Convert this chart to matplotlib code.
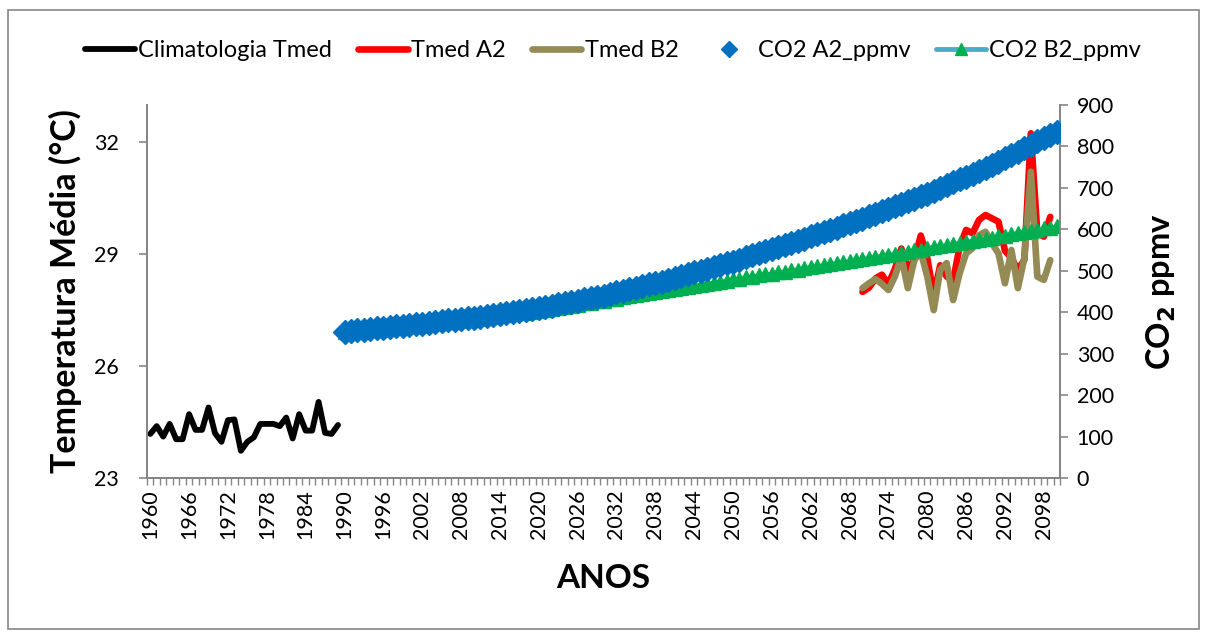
import matplotlib
matplotlib.use("Agg")
import matplotlib.pyplot as plt
from matplotlib.lines import Line2D
from matplotlib.patches import Rectangle

plt.rcParams['font.family'] = ['Lato', 'DejaVu Sans']

# Category axis: one slot per year
years = list(range(1960, 2101))

clim_years = list(range(1960, 1990))
clim_tmed = [24.18, 24.39, 24.11, 24.45, 24.04, 24.04, 24.71, 24.29, 24.29, 24.89,
             24.20, 23.97, 24.55, 24.57, 23.73, 23.97, 24.09, 24.45, 24.45, 24.45,
             24.39, 24.62, 24.06, 24.71, 24.27, 24.27, 25.04, 24.21, 24.18, 24.42]

scen_years = list(range(2070, 2100))
tmed_a2 = [27.99, 28.10, 28.35, 28.45, 28.20, 28.60, 29.15, 28.60, 28.85, 29.50,
           28.90, 27.90, 28.70, 28.40, 28.30, 29.20, 29.65, 29.56, 29.92, 30.05,
           29.96, 29.87, 29.09, 28.90, 28.58, 28.85, 32.24, 29.56, 29.47, 30.00]
tmed_b2 = [28.09, 28.22, 28.33, 28.20, 28.04, 28.40, 28.93, 28.09, 28.84, 29.07,
           28.40, 27.50, 28.58, 28.76, 27.77, 28.49, 29.02, 29.16, 29.51, 29.60,
           29.29, 29.02, 28.22, 29.11, 28.09, 28.90, 31.21, 28.40, 28.31, 28.84]

co2_years = list(range(1990, 2101))
co2_a2 = [353,
          355, 356, 358, 359, 361, 363, 364, 366, 367, 369,
          371, 372, 374, 376, 378, 380, 381, 383, 385, 387,
          389, 392, 394, 396, 399, 401, 403, 406, 408, 410,
          413, 416, 419, 422, 425, 428, 431, 434, 437, 440,
          444, 448, 451, 455, 459, 463, 467, 470, 474, 478,
          482, 487, 491, 496, 500, 504, 509, 513, 518, 522,
          527, 532, 537, 542, 547, 552, 557, 562, 567, 572,
          577, 583, 588, 594, 599, 604, 610, 615, 621, 626,
          632, 638, 644, 650, 656, 662, 668, 674, 680, 686,
          693, 700, 707, 714, 721, 727, 734, 741, 748, 755,
          763, 771, 779, 787, 796, 804, 812, 820, 828, 836]
co2_b2 = [353,
          354, 356, 357, 359, 360, 361, 363, 364, 366, 367,
          369, 370, 372, 373, 375, 377, 378, 380, 381, 383,
          385, 387, 389, 391, 393, 395, 397, 399, 401, 403,
          406, 408, 411, 413, 416, 418, 421, 423, 426, 428,
          431, 433, 436, 438, 441, 444, 446, 449, 451, 454,
          456, 459, 461, 464, 466, 469, 471, 474, 476, 479,
          481, 484, 486, 489, 491, 493, 496, 498, 501, 503,
          506, 508, 511, 513, 516, 518, 521, 523, 526, 528,
          531, 533, 536, 538, 541, 544, 546, 549, 551, 554,
          557, 559, 562, 564, 567, 570, 572, 575, 577, 580,
          583, 585, 588, 591, 593, 596, 599, 602, 604, 607]

temp_ticks = [23, 26, 29, 32]
co2_ticks = [0, 100, 200, 300, 400, 500, 600, 700, 800, 900]
label_step = 6

BLACK = '#000000'
RED = '#FF0000'
OLIVE = '#948A54'
BLUE = '#0070C0'
GREEN = '#00B050'
TEAL = '#4BACC6'
AXIS_GREY = '#868686'


def pos(yr_list):
    return [years.index(y) for y in yr_list]


fig = plt.figure(figsize=(12.07, 6.32), dpi=100)
ax = fig.add_axes([0.1218, 0.2437, 0.7564, 0.5902])
ax2 = ax.twinx()

lw = 4.2
ax.plot(pos(clim_years), clim_tmed, color=BLACK, lw=lw, solid_joinstyle='round',
        solid_capstyle='round', zorder=3)
ax.plot(pos(scen_years), tmed_a2, color=RED, lw=lw + 0.6, solid_joinstyle='round',
        solid_capstyle='round', zorder=3)
ax.plot(pos(scen_years), tmed_b2, color=OLIVE, lw=lw + 0.6, solid_joinstyle='round',
        solid_capstyle='round', zorder=4)

ax2.plot(pos(co2_years), co2_b2, color=TEAL, lw=3, marker='^', markersize=10.5,
         markerfacecolor=GREEN, markeredgecolor=GREEN, zorder=2)
ax2.plot(pos(co2_years), co2_a2, linestyle='none', marker='D', markersize=12,
         markerfacecolor=BLUE, markeredgecolor=BLUE, zorder=3)

ax.set_xlim(-0.5, len(years) - 0.5)
ax.set_ylim(23, 33)
ax2.set_ylim(0, 900)

ax.set_yticks(temp_ticks)
ax2.set_yticks(co2_ticks)
major = list(range(0, len(years), label_step))
ax.set_xticks(major)
ax.set_xticklabels([str(years[i]) for i in major], rotation=90)
ax.set_xticks([i - 0.5 for i in range(len(years) + 1)], minor=True)
ax.tick_params(axis='x', which='major', length=0, pad=8, labelsize=15.5)
ax.tick_params(axis='x', which='minor', length=5, color=AXIS_GREY, width=1)
ax.tick_params(axis='y', length=6, color=AXIS_GREY, width=1.2, labelsize=15.5, pad=14)
ax2.tick_params(axis='y', length=6, color=AXIS_GREY, width=1.2, labelsize=15.5, pad=6)

for a in (ax, ax2):
    a.spines['top'].set_visible(False)
    for s in ('left', 'right', 'bottom'):
        a.spines[s].set_color(AXIS_GREY)
        a.spines[s].set_linewidth(1.3)

ax.set_ylabel('Temperatura Média (°C)', fontsize=24.5, fontweight='bold', labelpad=9)
ax2.set_ylabel('CO$_\\mathbf{2}$ ppmv', fontsize=23.5, fontweight='bold', labelpad=22)
ax.set_xlabel('ANOS', fontsize=24, fontweight='bold', labelpad=18)

handles = [
    Line2D([], [], color=BLACK, lw=lw, solid_capstyle='round'),
    Line2D([], [], color=RED, lw=lw + 0.6, solid_capstyle='round'),
    Line2D([], [], color=OLIVE, lw=lw + 0.6, solid_capstyle='round'),
    Line2D([], [], linestyle='none', marker='D', markersize=8,
           markerfacecolor=BLUE, markeredgecolor=BLUE),
    Line2D([], [], color=TEAL, lw=3.5, solid_capstyle='round', marker='^',
           markersize=9, markerfacecolor=GREEN, markeredgecolor=GREEN),
]
labels = ['Climatologia Tmed', 'Tmed A2', 'Tmed B2', 'CO2 A2_ppmv', 'CO2 B2_ppmv']
fig.legend(handles, labels, loc='center', bbox_to_anchor=(0.508, 0.92), ncol=5,
           frameon=False, fontsize=17, handlelength=2.1, handletextpad=0.15,
           columnspacing=1.1)

fig.add_artist(Rectangle((0.007, 0.004), 0.986, 0.98, transform=fig.transFigure,
                         fill=False, edgecolor=AXIS_GREY, lw=1.2))

fig.savefig('out.png', dpi=100)
